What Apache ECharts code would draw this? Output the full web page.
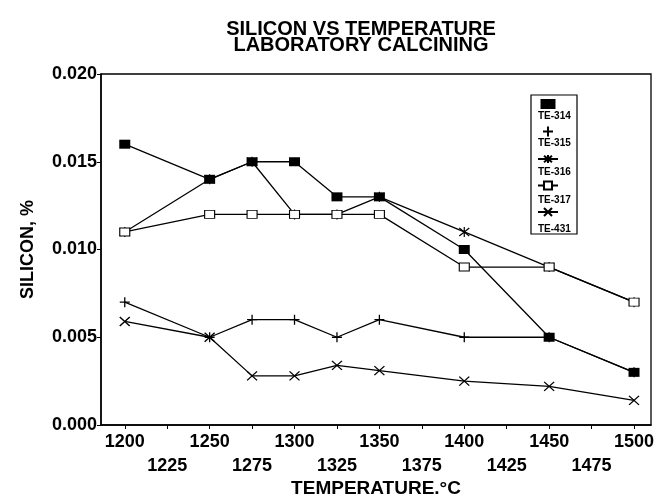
<!DOCTYPE html>
<html>
<head>
<meta charset="utf-8">
<script src="https://cdn.jsdelivr.net/npm/echarts@6/dist/echarts.min.js"></script>
<style>
	html, body { margin: 0; padding: 0; background: #fff; }
	#chart { width: 657px; height: 496px; }
</style>
</head>
<body>
<div id="chart"></div>
<script>
// temperatures (deg C) and silicon (%) per sample
var temps = [1200, 1250, 1275, 1300, 1325, 1350, 1400, 1450, 1500];
var te314 = [0.016, 0.014, 0.015, 0.015, 0.013, 0.013, 0.010, 0.005, 0.003];
var te315 = [0.007, 0.005, 0.006, 0.006, 0.005, 0.006, 0.005, 0.005, 0.003];
var te316 = [0.011, 0.014, 0.015, 0.012, 0.012, 0.013, 0.011, 0.009, 0.007];
var te317 = [0.011, 0.012, 0.012, 0.012, 0.012, 0.012, 0.009, 0.009, 0.007];
var te431 = [0.0059, 0.005, 0.0028, 0.0028, 0.0034, 0.0031, 0.0025, 0.0022, 0.0014];
var xTicks = [1200, 1225, 1250, 1275, 1300, 1325, 1350, 1375, 1400, 1425, 1450, 1475, 1500];
var seriesNames = ['TE-314', 'TE-315', 'TE-316', 'TE-317', 'TE-431'];

var font = 'Liberation Sans, Arial, sans-serif';

function pairs(vals){
	var arr = [];
	temps.map(function(t, i){
		arr.push([t, vals[i]]);
	});
	return arr;
}

var marks = {
	'TE-314' : { symbol : 'rect', size : [11, 9], fill : '#000', border : 0 },
	'TE-315' : { symbol : 'path://M5,0L5,10M0,5L10,5', size : [10, 10], fill : '#000', border : 1.3 },
	'TE-316' : { symbol : 'path://M0,1L10,9M10,1L0,9M5,0L5,10', size : [10, 10], fill : '#000', border : 1.2 },
	'TE-317' : { symbol : 'rect', size : [10, 8], fill : '#fff', border : 1 },
	'TE-431' : { symbol : 'path://M0,0L10,9M10,0L0,9', size : [10, 9], fill : '#000', border : 1.3 }
};

var values = [te314, te315, te316, te317, te431];

var chart = echarts.init(document.getElementById('chart'));

var option = {
	animation : false,
	backgroundColor : '#fff',
	textStyle : { fontFamily : font },
	title : {
		text : 'SILICON VS TEMPERATURE\nLABORATORY CALCINING',
		left : 356,
		top : 16,
		textAlign : 'center',
		textStyle : {
			fontFamily : font,
			fontSize : 20,
			fontWeight : 'bold',
			color : '#000',
			lineHeight : 16
		}
	},
	// two legends: the boxed one shows the marks, the second one puts the names under them
	legend : [
		{
			orient : 'vertical',
			left : 531,
			top : 95,
			padding : [4, 18, 17, 6],
			itemGap : 16.5,
			itemWidth : 20,
			itemHeight : 10,
			borderColor : '#000',
			borderWidth : 1.2,
			backgroundColor : '#fff',
			formatter : function(){ return ''; },
			data : [
				{ name : 'TE-314', icon : 'path://M0,0L12,0L12,8L0,8Z' },
				{ name : 'TE-315', icon : 'path://M5,0L5,10M0,5L10,5' },
				'TE-316', 'TE-317', 'TE-431'
			]
		},
		{
			orient : 'vertical',
			left : 531,
			top : 110,
			padding : 0,
			itemGap : 14.5,
			itemWidth : 1,
			itemHeight : 12,
			icon : 'rect',
			itemStyle : { opacity : 0 },
			data : seriesNames,
			textStyle : {
				fontFamily : font,
				fontSize : 10,
				fontWeight : 'bold',
				color : '#000',
				lineHeight : 12
			}
		}
	],
	grid : {
		left : 101,
		right : 6,
		top : 74,
		bottom : 71,
		outerBoundsMode : 'none',
		show : true,
		borderColor : '#000',
		borderWidth : 1.3
	},
	xAxis : {
		type : 'value',
		min : 1186,
		max : 1510,
		name : 'TEMPERATURE.°C',
		nameLocation : 'middle',
		nameGap : 54,
		nameMoveOverlap : false,
		nameTextStyle : {
			fontFamily : font,
			fontSize : 19,
			fontWeight : 'bold',
			color : '#000'
		},
		axisLine : { lineStyle : { color : '#000', width : 1.5 } },
		axisTick : {
			show : true,
			inside : false,
			length : 4,
			customValues : xTicks,
			lineStyle : { color : '#000', width : 1 }
		},
		axisLabel : {
			customValues : xTicks,
			margin : 5,
			fontFamily : font,
			fontSize : 18,
			fontWeight : 'bold',
			color : '#000',
			lineHeight : 24,
			formatter : function(v){
				return v % 50 === 0 ? String(v) : '\n' + v;
			}
		},
		splitLine : { show : false }
	},
	yAxis : {
		type : 'value',
		min : 0,
		max : 0.02,
		interval : 0.005,
		name : 'SILICON, %',
		nameLocation : 'middle',
		nameGap : 64,
		nameMoveOverlap : false,
		nameTextStyle : {
			fontFamily : font,
			fontSize : 18,
			fontWeight : 'bold',
			color : '#000'
		},
		axisLine : { show : true, lineStyle : { color : '#000', width : 1.5 } },
		axisTick : { show : true, length : 4, lineStyle : { color : '#000' } },
		axisLabel : {
			margin : 4,
			fontFamily : font,
			fontSize : 18,
			fontWeight : 'bold',
			color : '#000',
			formatter : function(v){
				return v.toFixed(3);
			}
		},
		splitLine : { show : false }
	},
	series : (function(){
		var arr = [];
		seriesNames.map(function(name, index){
			var m = marks[name];
			arr.push({
				name : name,
				type : 'line',
				data : pairs(values[index]),
				symbol : m.symbol,
				symbolSize : m.size,
				showAllSymbol : true,
				lineStyle : { color : '#000', width : 1.3 },
				itemStyle : {
					color : m.fill,
					borderColor : '#000',
					borderWidth : m.border
				},
				emphasis : { disabled : true }
			});
		});
		return arr;
	})()
};

chart.setOption(option);
</script>
</body>
</html>
